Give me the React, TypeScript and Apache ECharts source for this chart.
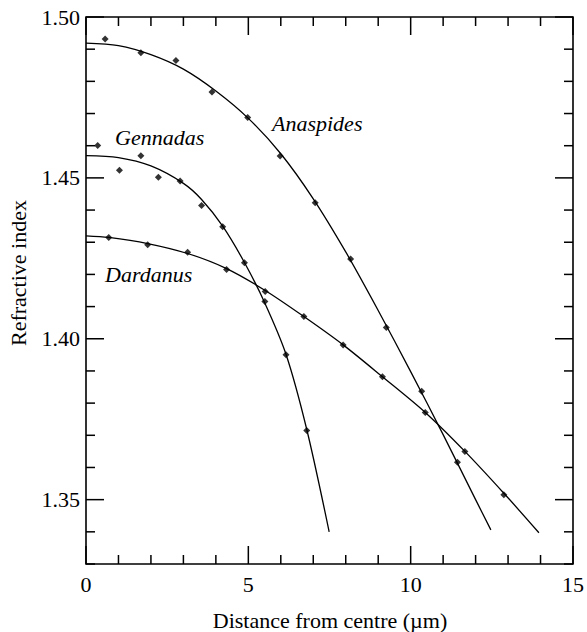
import React, { useEffect, useRef } from "react";
import * as echarts from "echarts";

// Axis ranges and tick values
const X_MIN = 0;
const X_MAX = 15;
const Y_MIN = 1.33;
const Y_MAX = 1.5;
const xLabelValues = [0, 5, 10, 15];
const xTickValues = [0, 1, 2, 3, 4, 5, 6, 7, 8, 9, 10, 11, 12, 13, 14, 15];
const yLabelValues = [1.35, 1.4, 1.45, 1.5];
const yTickValues = [
  1.33, 1.34, 1.35, 1.36, 1.37, 1.38, 1.39, 1.4, 1.41, 1.42, 1.43, 1.44, 1.45, 1.46, 1.47, 1.48, 1.49, 1.5,
];

// Measured points
const anaspidesPoints = [
  [0.59, 1.4932], [1.69, 1.4889], [2.77, 1.4865], [3.88, 1.4767], [4.98, 1.4688],
  [5.98, 1.4568], [7.06, 1.4423], [8.15, 1.4248], [9.25, 1.4035], [10.34, 1.3837], [11.44, 1.3616],
];
const gennadasPoints = [
  [0.36, 1.4601], [1.03, 1.4524], [1.69, 1.4569], [2.23, 1.4502], [2.9, 1.449], [3.56, 1.4414],
  [4.21, 1.4348], [4.88, 1.4236], [5.51, 1.4116], [6.16, 1.395], [6.8, 1.3715],
];
const dardanusPoints = [
  [0.7, 1.4315], [1.9, 1.4292], [3.13, 1.4269], [4.33, 1.4215], [5.52, 1.4147], [6.71, 1.4069],
  [7.92, 1.3981], [9.13, 1.3882], [10.45, 1.3771], [11.67, 1.365], [12.87, 1.3515],
];

// Fitted curves
const anaspidesCurve = [
  [0, 1.4919], [1, 1.4911], [2, 1.4883], [3, 1.4838], [4, 1.477], [5, 1.4685], [6, 1.4575],
  [7, 1.4435], [8, 1.427], [9, 1.4088], [10, 1.3898], [11, 1.3702], [12, 1.35], [12.47, 1.3406],
];
const gennadasCurve = [
  [0, 1.4569], [1, 1.4563], [2, 1.4537], [3, 1.4483], [3.56, 1.4433], [4.21, 1.435], [4.88, 1.4237],
  [5.5, 1.4113], [6.16, 1.3952], [6.8, 1.3718], [7.49, 1.34],
];
const dardanusCurve = [
  [0, 1.432], [0.7, 1.4315], [1.9, 1.4296], [3.13, 1.4265], [4.33, 1.4218], [5.52, 1.415],
  [6.71, 1.4069], [7.92, 1.3981], [9.13, 1.3882], [10.45, 1.3771], [11.67, 1.365], [12.87, 1.352],
  [13.95, 1.3397],
];

const FONT = "Liberation Serif";
const BLACK = "#000";

const isMajor = (v: number, list: number[]) => list.some((l) => Math.abs(l - v) < 1e-9);

// [value, kind (0 = x tick, 1 = y tick, 2 = frame), major flag]
const frameData = [
  ...xTickValues.map((v) => [v, 0, isMajor(v, xLabelValues) ? 1 : 0]),
  ...yTickValues.map((v) => [v, 1, isMajor(v, yLabelValues) ? 1 : 0]),
  [X_MIN, 2, 0],
];

function renderFrame(params: any, api: any) {
  const v = api.value(0);
  const kind = api.value(1);
  const len = api.value(2) === 1 ? 18 : 9;
  const style = { stroke: BLACK, lineWidth: 1.5, fill: "none" };
  if (kind === 0) {
    const b = api.coord([v, Y_MIN]);
    const t = api.coord([v, Y_MAX]);
    return {
      type: "group",
      children: [
        { type: "line", shape: { x1: b[0], y1: b[1], x2: b[0], y2: b[1] - len }, style },
        { type: "line", shape: { x1: t[0], y1: t[1], x2: t[0], y2: t[1] + len }, style },
      ],
    };
  }
  if (kind === 1) {
    const l = api.coord([X_MIN, v]);
    const r = api.coord([X_MAX, v]);
    return {
      type: "group",
      children: [
        { type: "line", shape: { x1: l[0], y1: l[1], x2: l[0] + len, y2: l[1] }, style },
        { type: "line", shape: { x1: r[0], y1: r[1], x2: r[0] - len, y2: r[1] }, style },
      ],
    };
  }
  const tl = api.coord([X_MIN, Y_MAX]);
  const br = api.coord([X_MAX, Y_MIN]);
  return {
    type: "rect",
    shape: { x: tl[0], y: tl[1], width: br[0] - tl[0], height: br[1] - tl[1] },
    style: { stroke: BLACK, lineWidth: 1.6, fill: "none" },
  };
}

function lineSeries(name: string, data: number[][]) {
  return {
    name,
    type: "line",
    data,
    smooth: 0.3,
    showSymbol: false,
    lineStyle: { color: BLACK, width: 1.3 },
    itemStyle: { color: BLACK },
    z: 3,
  };
}

function pointSeries(name: string, data: number[][]) {
  return {
    name,
    type: "scatter",
    data,
    symbol: "diamond",
    symbolSize: 7,
    itemStyle: { color: BLACK },
    z: 4,
  };
}

function label(text: string, left: number, top: number) {
  return {
    type: "text",
    left,
    top,
    style: { text, font: `italic 22px "${FONT}"`, fill: BLACK },
  };
}

export default function App() {
  const ref = useRef<HTMLDivElement>(null);
  useEffect(() => {
    document.body.style.margin = "0";
    if (!ref.current) return;
    const chart = echarts.init(ref.current, undefined, { renderer: "svg" });
    chart.setOption({
      animation: false,
      grid: { left: 86, right: 14, top: 17, bottom: 68, outerBoundsMode: "none" },
      xAxis: {
        type: "value",
        min: X_MIN,
        max: X_MAX,
        interval: 5,
        axisLine: { show: false },
        axisTick: { show: false },
        splitLine: { show: false },
        axisLabel: { color: BLACK, fontSize: 22, fontFamily: FONT, margin: 9 },
      },
      yAxis: {
        type: "value",
        min: Y_MIN,
        max: Y_MAX,
        interval: 0.01,
        axisLine: { show: false },
        axisTick: { show: false },
        splitLine: { show: false },
        axisLabel: {
          customValues: yLabelValues.slice(),
          formatter: (v: number) => v.toFixed(2),
          color: BLACK,
          fontSize: 22,
          fontFamily: FONT,
          margin: 6,
        },
      },
      series: [
        {
          name: "frame",
          type: "custom",
          data: frameData,
          renderItem: renderFrame,
          silent: true,
          clip: false,
          z: 5,
        },
        lineSeries("Anaspides curve", anaspidesCurve),
        lineSeries("Gennadas curve", gennadasCurve),
        lineSeries("Dardanus curve", dardanusCurve),
        pointSeries("Anaspides", anaspidesPoints),
        pointSeries("Gennadas", gennadasPoints),
        pointSeries("Dardanus", dardanusPoints),
      ],
      graphic: [
        label("Anaspides", 272, 112),
        label("Gennadas", 115, 126),
        label("Dardanus", 105, 263),
        {
          type: "text",
          x: 330,
          y: 620,
          style: {
            text: "Distance from centre (µm)",
            font: `22px "${FONT}"`,
            fill: BLACK,
            align: "center",
            verticalAlign: "middle",
          },
        },
        {
          type: "text",
          x: 18,
          y: 273,
          rotation: Math.PI / 2,
          style: {
            text: "Refractive index",
            font: `22px "${FONT}"`,
            fill: BLACK,
            align: "center",
            verticalAlign: "middle",
          },
        },
      ],
    });
    return () => chart.dispose();
  }, []);
  return <div ref={ref} style={{ width: 587, height: 632 }} />;
}
